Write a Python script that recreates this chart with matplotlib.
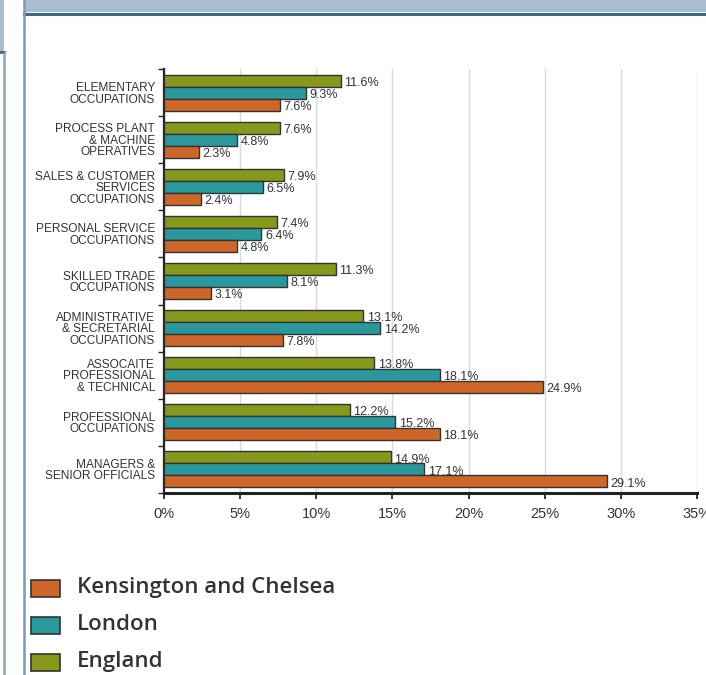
import matplotlib
matplotlib.use("Agg")
import matplotlib.pyplot as plt
from matplotlib.patches import Rectangle
from matplotlib.lines import Line2D
import numpy as np

categories = [
    "ELEMENTARY\nOCCUPATIONS",
    "PROCESS PLANT\n& MACHINE\nOPERATIVES",
    "SALES & CUSTOMER\nSERVICES\nOCCUPATIONS",
    "PERSONAL SERVICE\nOCCUPATIONS",
    "SKILLED TRADE\nOCCUPATIONS",
    "ADMINISTRATIVE\n& SECRETARIAL\nOCCUPATIONS",
    "ASSOCAITE\nPROFESSIONAL\n& TECHNICAL",
    "PROFESSIONAL\nOCCUPATIONS",
    "MANAGERS &\nSENIOR OFFICIALS",
]
england = [11.6, 7.6, 7.9, 7.4, 11.3, 13.1, 13.8, 12.2, 14.9]
london = [9.3, 4.8, 6.5, 6.4, 8.1, 14.2, 18.1, 15.2, 17.1]
kensington = [7.6, 2.3, 2.4, 4.8, 3.1, 7.8, 24.9, 18.1, 29.1]
series_names = ["Kensington and Chelsea", "London", "England"]
xticks = [0, 5, 10, 15, 20, 25, 30, 35]
xticklabels = ["0%", "5%", "10%", "15%", "20%", "25%", "30%", "35%"]

c_k = "#cf6629"
c_l = "#2a999e"
c_e = "#88981c"
edge = "#333333"
txt = "#333333"

W, H = 706, 675
fig = plt.figure(figsize=(W / 100, H / 100), dpi=100)

# frame decorations
fig.patches.append(Rectangle((24 / W, 1 - 12 / H), 1 - 24 / W, 12 / H,
                             transform=fig.transFigure, facecolor="#aabdd0",
                             edgecolor="none", zorder=0))
fig.lines.append(Line2D([24 / W, 1], [1 - 13.5 / H, 1 - 13.5 / H],
                        transform=fig.transFigure, color="#3d6789", lw=2.2))
fig.lines.append(Line2D([23.5 / W, 23.5 / W], [0, 1], transform=fig.transFigure,
                        color="#7c9cb6", lw=1.8))
fig.patches.append(Rectangle((0, 1 - 52 / H), 4 / W, 52 / H,
                             transform=fig.transFigure, facecolor="#aabdd0",
                             edgecolor="none", zorder=0))
fig.lines.append(Line2D([0, 4 / W], [1 - 52 / H, 1 - 52 / H],
                        transform=fig.transFigure, color="#3d6789", lw=2))
fig.lines.append(Line2D([3.5 / W, 3.5 / W], [0, 1 - 53 / H], transform=fig.transFigure,
                        color="#8ea6bb", lw=1.8))

ax = fig.add_axes([164 / W, 1 - 493 / H, 533 / W, 424 / H])
n = len(categories)
y = np.arange(n)
bh = 0.255
ax.barh(y - bh, england, height=bh, color=c_e, edgecolor=edge, linewidth=1, zorder=3)
ax.barh(y, london, height=bh, color=c_l, edgecolor=edge, linewidth=1, zorder=3)
ax.barh(y + bh, kensington, height=bh, color=c_k, edgecolor=edge, linewidth=1, zorder=3)

for vals, off in ((england, -bh), (london, 0), (kensington, bh)):
    for i, v in enumerate(vals):
        ax.annotate(f"{v:.1f}%", (v, i + off), xytext=(2.5, -1.5),
                    textcoords="offset points", va="center", ha="left",
                    fontsize=9, color=txt, family="Liberation Sans", zorder=4)

ax.set_xlim(0, 35)
ax.set_ylim(n - 0.5, -0.5)
ax.set_xticks(xticks)
ax.set_xticklabels(xticklabels, fontsize=10.5, color=txt, family="Liberation Sans")
ax.set_yticks(y)
ax.set_yticklabels(categories, fontsize=8.6, color=txt, family="Liberation Sans",
                   linespacing=0.95)
ax.set_yticks(np.arange(-0.5, n, 1), minor=True)
ax.tick_params(axis="y", which="major", length=0, pad=6.5)
ax.tick_params(axis="y", which="minor", length=4, width=1, color="#222222", direction="out")
ax.tick_params(axis="x", length=4, width=1.3, color="#222222", direction="out", pad=6)

ax.grid(axis="x", color="#d3dbe6", lw=1, zorder=0)
ax.set_axisbelow(True)
for s in ("top", "right"):
    ax.spines[s].set_visible(False)
ax.spines["left"].set_linewidth(1.6)
ax.spines["left"].set_color("#222222")
ax.spines["bottom"].set_linewidth(2.2)
ax.spines["bottom"].set_color("#222222")

# legend
leg_colors = [c_k, c_l, c_e]
for k, (name, col) in enumerate(zip(series_names, leg_colors)):
    yc = 588 + 37 * k
    fig.patches.append(Rectangle((31 / W, 1 - (yc + 8.5) / H), 29 / W, 17 / H,
                                 transform=fig.transFigure, facecolor=col,
                                 edgecolor=edge, lw=1.2))
    fig.text(77 / W, 1 - yc / H, name, fontsize=16, color=txt,
             family="Open Sans", fontweight="semibold", va="center", ha="left")

fig.savefig("out.png", dpi=100)
